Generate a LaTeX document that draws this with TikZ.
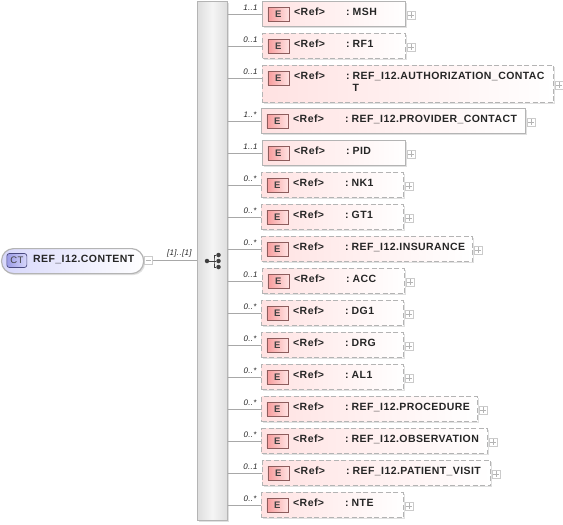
\documentclass[tikz,border=0pt]{standalone}
\usepackage{fontspec}
\setmainfont[LetterSpace=4]{Liberation Sans}
\usepackage{xcolor}
\usetikzlibrary{positioning,calc,shadows}
\definecolor{FrameGrey}{HTML}{B4B4B4}
\definecolor{WireGrey}{HTML}{A8A8A8}
\definecolor{SpineGrey}{HTML}{DEDEDE}
\definecolor{ElemPink}{HTML}{FFE2E2}
\definecolor{BadgeRed}{HTML}{F79C9C}
\definecolor{BadgeEdge}{HTML}{8C5C5C}
\definecolor{PillBlue}{HTML}{D8D8FB}
\definecolor{BadgeBlue}{HTML}{9C9CE6}
\definecolor{BadgeInk}{HTML}{4A4A80}
\tikzset{
  elem/.style={draw=FrameGrey,line width=1.2pt,left color=ElemPink,right color=white,anchor=north west,inner sep=0pt,
    general shadow={fill=black,opacity=.12,shadow xshift=1.5pt,shadow yshift=-1.5pt}},
  elemsolid/.style={elem},
  elemdash/.style={elem,dash pattern=on 5pt off 2.5pt},
  badge/.style={draw=BadgeEdge,line width=.7pt,left color=BadgeRed,right color=ElemPink,minimum width=21pt,minimum height=13.5pt,inner sep=0pt,anchor=north west,font=\fontsize{9.5}{10}\selectfont\bfseries,text=black!75},
  txt/.style={inner sep=0pt,anchor=north west,align=left,font=\fontsize{10.5}{12.5}\selectfont\bfseries,text=black!85},
  toggle/.style={draw=FrameGrey!70,line width=.6pt,fill=white,minimum size=8pt,inner sep=0pt,anchor=west},
  wire/.style={draw=WireGrey,line width=.8pt},
  mult/.style={inner sep=0pt,anchor=south east,font=\fontsize{8}{8}\selectfont\itshape,text=black!85},
  tick/.style={draw=FrameGrey,line width=.5pt}
}
\newcommand{\capstrut}{\rule{0pt}{8.5pt}}
% one element row: id, style, left, top, width, height, text, multiplicity
\newcommand{\refelem}[8]{
  \node[#2,minimum width=#5pt,minimum height=#6pt] (#1) at (#3,#4) {};
  \node[badge] (#1-e) at ([xshift=5.5pt,yshift=-6pt]#1.north west) {E};
  \node[txt] (#1-ref) at ([xshift=32pt,yshift=-5.5pt]#1.north west) {\capstrut<Ref>};
  \node[txt] (#1-colon) at ([xshift=84pt,yshift=-5.5pt]#1.north west) {\capstrut:};
  \node[txt] (#1-name) at ([xshift=90.5pt,yshift=-5.5pt]#1.north west) {\capstrut#7};
  \node[toggle] (#1-plus) at ([xshift=.5pt,yshift=-1pt]#1.east) {};
  \draw[tick] ([xshift=1.5pt]#1-plus.west) -- ([xshift=-1.5pt]#1-plus.east);
  \draw[tick] ([yshift=1.5pt]#1-plus.south) -- ([yshift=-1.5pt]#1-plus.north);
  \coordinate (#1-in) at ([yshift=-13pt]#1.north west);
  \draw[wire] (spine.east |- #1-in) -- (#1-in) node[mult,xshift=-4pt,yshift=3.5pt] (#1-mult) {#8};
}
\begin{document}
\begin{tikzpicture}[x=1pt,y=-1pt]
\useasboundingbox (0,0) rectangle (563,525);
% spine with the sequence icon
\node[draw=FrameGrey,line width=.8pt,left color=SpineGrey,right color=SpineGrey,middle color=white!96!black,minimum width=30pt,minimum height=519pt,inner sep=0pt,anchor=north west,general shadow={fill=black,opacity=.12,shadow xshift=1.5pt,shadow yshift=-1.5pt}] (spine) at (197,1) {};
\coordinate (seqin) at (207,261);
\coordinate (seqjoin) at (214,261);
\node[circle,fill=black!75,minimum size=4.5pt,inner sep=0pt] (seqdot) at (seqin) {};
\node[circle,fill=black!75,minimum size=4.5pt,inner sep=0pt] (seqa) at (218.5,255) {};
\node[circle,fill=black!75,minimum size=4.5pt,inner sep=0pt] (seqb) at (218.5,261) {};
\node[circle,fill=black!75,minimum size=4.5pt,inner sep=0pt] (seqc) at (218.5,267) {};
\draw[black!75,line width=.8pt] (seqdot) -- (seqb);
\draw[black!75,line width=.8pt] (seqa) -| (seqjoin) |- (seqc);
% content type on the left
\node[draw=FrameGrey,line width=1.2pt,rounded corners=12pt,left color=PillBlue,right color=white,minimum width=142pt,minimum height=25pt,inner sep=0pt,anchor=north west,general shadow={fill=black,opacity=.12,shadow xshift=1.5pt,shadow yshift=-1.5pt}] (content) at (1,248) {};
\node[draw=BadgeInk,line width=.7pt,rounded corners=2.5pt,left color=BadgeBlue,right color=PillBlue,minimum width=20pt,minimum height=14pt,inner sep=0pt,anchor=west,font=\fontsize{9.5}{10}\selectfont,text=black!75] (content-ct) at (6.5,260.5) {CT};
\node[txt,anchor=west] (content-name) at (33,259.5) {REF\_I12.CONTENT};
\node[toggle] (content-minus) at ([yshift=.5pt]content.east) {};
\draw[tick] ([xshift=1.5pt]content-minus.west) -- ([xshift=-1.5pt]content-minus.east);
\draw[wire] (content-minus) -- (spine.west |- content-minus) node[mult,xshift=-5pt,yshift=3pt] (content-mult) {[1]..[1]};
% element rows
\refelem{msh}{elemsolid}{262}{1}{143}{25}{MSH}{1..1}
\refelem{rf}{elemdash}{262}{33}{143}{25}{RF1}{0..1}
\refelem{auth}{elemdash}{262}{65}{291}{37}{REF\_I12.AUTHORIZATION\_CONTAC\\T}{0..1}
\refelem{provider}{elemsolid}{261}{108}{264}{25}{REF\_I12.PROVIDER\_CONTACT}{1..*}
\refelem{pid}{elemsolid}{262}{140}{143}{25}{PID}{1..1}
\refelem{nk}{elemdash}{261}{172}{142}{25}{NK1}{0..*}
\refelem{gt}{elemdash}{261}{204}{142}{25}{GT1}{0..*}
\refelem{insurance}{elemdash}{261}{236}{211}{25}{REF\_I12.INSURANCE}{0..*}
\refelem{acc}{elemdash}{262}{268}{142}{25}{ACC}{0..1}
\refelem{dg}{elemdash}{261}{300}{142}{25}{DG1}{0..*}
\refelem{drg}{elemdash}{261}{332}{142}{25}{DRG}{0..*}
\refelem{al}{elemdash}{261}{364}{142}{25}{AL1}{0..*}
\refelem{procedure}{elemdash}{261}{396}{216}{25}{REF\_I12.PROCEDURE}{0..*}
\refelem{observation}{elemdash}{261}{428}{226}{25}{REF\_I12.OBSERVATION}{0..*}
\refelem{visit}{elemdash}{262}{460}{228}{25}{REF\_I12.PATIENT\_VISIT}{0..1}
\refelem{nte}{elemdash}{261}{492}{142}{25}{NTE}{0..*}
\end{tikzpicture}
\end{document}
